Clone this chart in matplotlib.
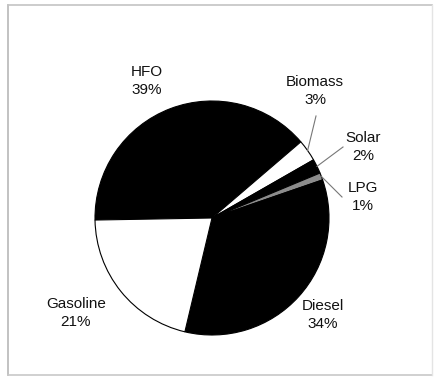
import numpy as np
import matplotlib
matplotlib.use("Agg")
import matplotlib.pyplot as plt

plt.rcParams['font.family'] = ['Liberation Sans', 'DejaVu Sans']

fuels = ['HFO', 'Biomass', 'Solar', 'LPG', 'Diesel', 'Gasoline']
shares = [39, 3, 2, 1, 34, 21]
colors = ['black', 'white', 'black', '#8c8c8c', 'black', 'white']

# label spots in pixel units (x, y from the bottom of the canvas)
label_xy = {
    'HFO': (147, 297),
    'Biomass': (315, 287),
    'Solar': (363, 231),
    'LPG': (363, 181),
    'Diesel': (323, 63),
    'Gasoline': (76, 65),
}
# leader line elbows for the small slices
elbow_xy = {
    'Biomass': (316, 262),
    'Solar': (343, 231),
    'LPG': (342, 181),
}

W, H = 435, 378
fig = plt.figure(figsize=(W / 100, H / 100), dpi=100)
ax = fig.add_axes([0, 0, 1, 1])

cx, cy, r = 212, 160, 117
wedges, _ = ax.pie(shares, colors=colors, startangle=181, counterclock=False,
                   center=(cx, cy), radius=r, frame=True,
                   wedgeprops=dict(edgecolor='black', linewidth=0.8))

for w, name, val in zip(wedges, fuels, shares):
    x, y = label_xy[name]
    ax.text(x, y, f"{name}\n{val}%", ha='center', va='center',
            fontsize=11, linespacing=1.45, color='#111111')
    if name in elbow_xy:
        mid = np.deg2rad((w.theta1 + w.theta2) / 2)
        px, py = cx + r * np.cos(mid), cy + r * np.sin(mid)
        ex, ey = elbow_xy[name]
        ax.plot([px, ex], [py, ey], color='#777777', lw=0.8)

ax.set_xlim(0, W)
ax.set_ylim(0, H)
ax.set_aspect('equal')
ax.axis('off')

# thin grey frame around the chart
ax.plot([8, 8], [3, 373], color='#b8b8b8', lw=1.2)
ax.plot([8, 432], [373, 373], color='#c4c4c4', lw=1.2)
ax.plot([8, 432], [3, 3], color='#c8c8c8', lw=1.2)
ax.plot([432, 432], [3, 373], color='#e4e4e4', lw=1.0)

fig.savefig('out.png', dpi=100)
